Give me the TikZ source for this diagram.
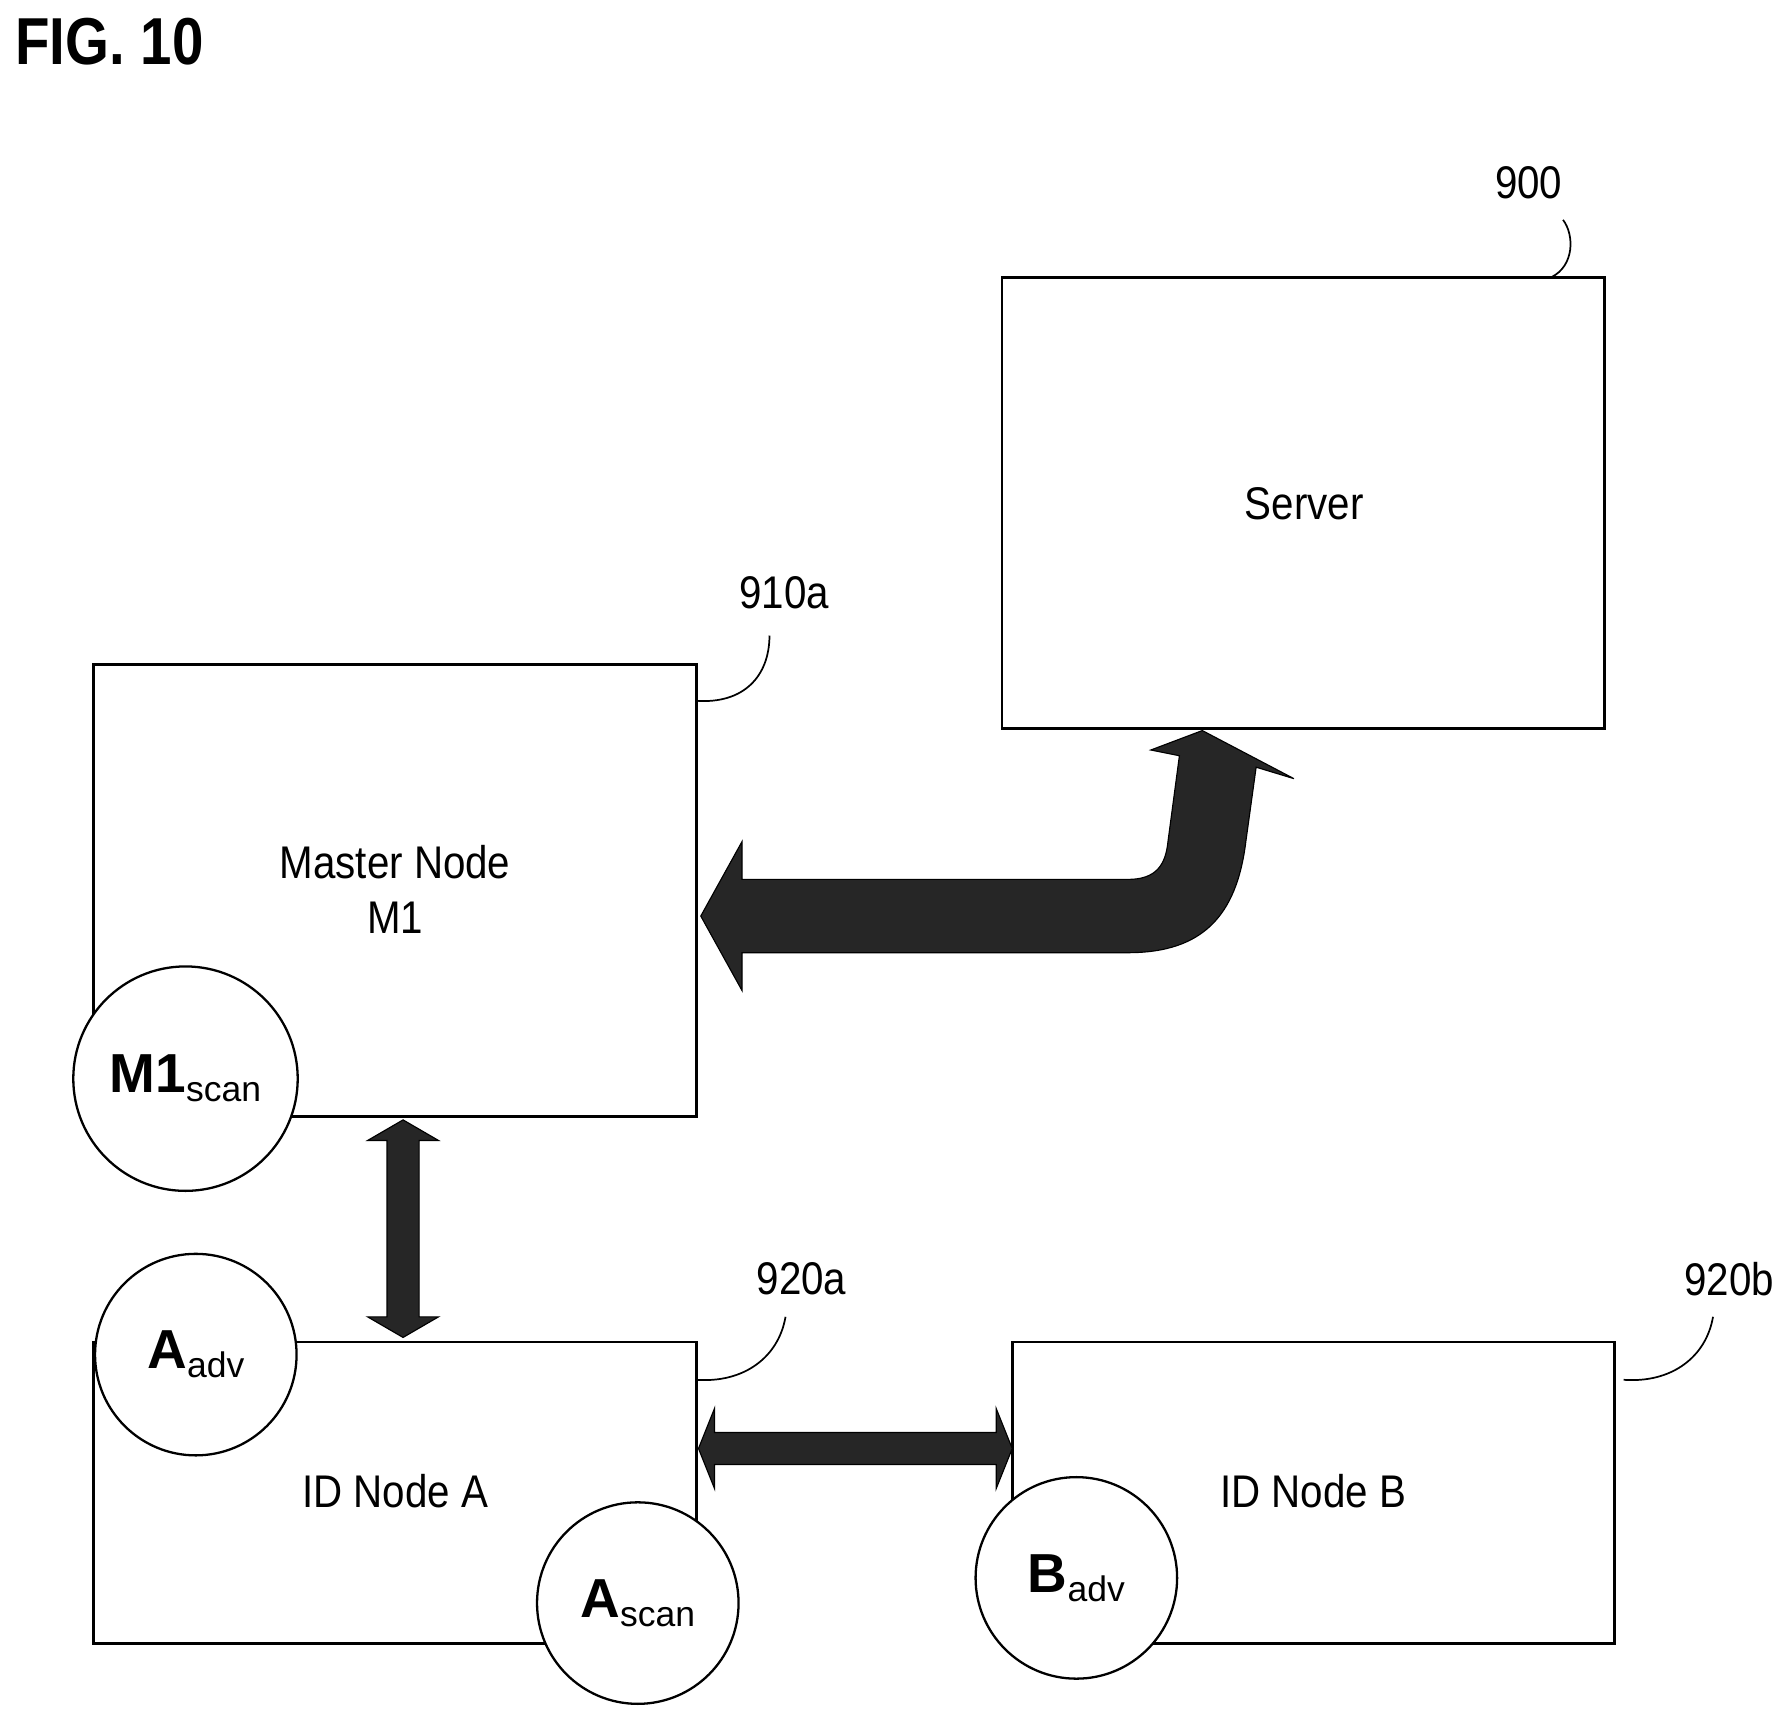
\documentclass[tikz,border=0pt]{standalone}
\usepackage{fontspec}
\setmainfont{Liberation Sans}
\begin{document}
\begin{tikzpicture}[x=1pt,y=-1pt,
 box/.style={draw,line width=2.5pt,fill=white},
 circ/.style={draw,line width=2pt,fill=white,circle,inner sep=0pt},
 lbl/.style={font=\fontsize{40}{44}\selectfont},
 lead/.style={line width=1.5pt},
 dbl/.style={fill=black!85,draw=black,line width=1pt}]
\useasboundingbox (0,0) rectangle (1565,1505);
\node[anchor=north west,font=\fontsize{58}{62}\selectfont\bfseries] (fig) at (10,12) {\scalebox{0.85}[1]{FIG. 10}};
% boxes
\draw[box] (875,242) rectangle (1401,636);
\node[lbl] (srv) at (1139,440) {\scalebox{0.88}[1]{Server}};
\draw[box] (82,580) rectangle (608,975);
\node[lbl,align=center] (mst) at (345,777) {\scalebox{0.88}[1]{Master Node}\\[4pt]\scalebox{0.88}[1]{M1}};
\draw[box] (82,1172) rectangle (608,1435);
\node[lbl] (ida) at (345,1302) {\scalebox{0.88}[1]{ID Node A}};
\draw[box] (884,1172) rectangle (1410,1435);
\node[lbl] (idb) at (1147,1302) {\scalebox{0.88}[1]{ID Node B}};
% circles
\node[circ,minimum size=196pt] (m1s) at (162,942) {};
\node at (162,942) {\fontsize{48}{50}\selectfont\bfseries M1\fontsize{31}{32}\mdseries\raisebox{-8pt}{scan}};
\node[circ,minimum size=176pt] (aadv) at (171,1183) {};
\node at (171,1183) {\fontsize{48}{50}\selectfont\bfseries A\fontsize{31}{32}\mdseries\raisebox{-8pt}{adv}};
\node[circ,minimum size=176pt] (ascan) at (557,1400) {};
\node at (557,1400) {\fontsize{48}{50}\selectfont\bfseries A\fontsize{31}{32}\mdseries\raisebox{-8pt}{scan}};
\node[circ,minimum size=176pt] (badv) at (940,1378) {};
\node at (940,1378) {\fontsize{48}{50}\selectfont\bfseries B\fontsize{31}{32}\mdseries\raisebox{-8pt}{adv}};
% reference labels
\node[lbl] (r900) at (1335,160) {\scalebox{0.88}[1]{900}};
\draw[lead] (1355,242) .. controls (1375,232) and (1375,205) .. (1365,192);
\node[lbl] (r910) at (685,518) {\scalebox{0.88}[1]{910a}};
\draw[lead] (608,612) .. controls (650,615) and (672,590) .. (672,555);
\node[lbl] (r920a) at (700,1117) {\scalebox{0.88}[1]{920a}};
\draw[lead] (608,1205) .. controls (650,1208) and (680,1185) .. (686,1150);
\node[lbl] (r920b) at (1510,1117) {\scalebox{0.88}[1]{920b}};
\draw[lead] (1418,1205) .. controls (1460,1208) and (1490,1185) .. (1496,1150);
% vertical double arrow
\draw[dbl] (352,978) -- (383,996) -- (366,996) -- (366,1150) -- (383,1150) -- (352,1168) -- (321,1150) -- (338,1150) -- (338,996) -- (321,996) -- cycle;
% horizontal double arrow
\draw[dbl] (610,1265) -- (624,1230) -- (624,1251) -- (870,1251) -- (870,1230) -- (884,1265) -- (870,1300) -- (870,1279) -- (624,1279) -- (624,1300) -- cycle;
% big curved arrow
\draw[dbl] (612,800) -- (648,735) -- (648,768) -- (985,768)
  .. controls (1010,768) and (1018,755) .. (1020,735)
  -- (1030,660) -- (1005,655) -- (1050,638) -- (1130,680) -- (1097,670)
  -- (1088,735) .. controls (1080,800) and (1050,832) .. (985,832)
  -- (648,832) -- (648,865) -- cycle;
\end{tikzpicture}
\end{document}
